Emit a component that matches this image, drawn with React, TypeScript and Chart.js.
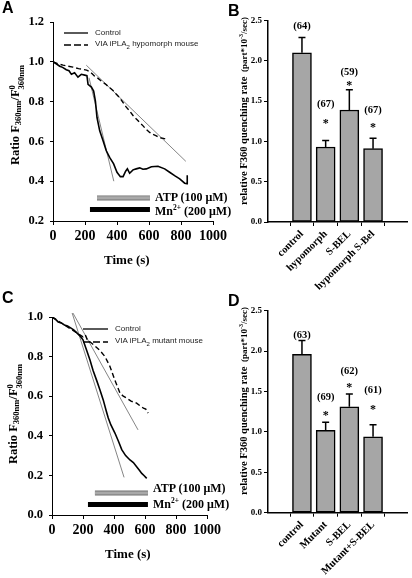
import React, { useEffect, useRef } from "react";
import { Chart, registerables } from "chart.js";
Chart.register(...registerables);

const SERIF = '"Liberation Serif", "Times New Roman", serif';
const SANS = '"Liberation Sans", Arial, sans-serif';

// ---------------- Panel A data ----------------
const aControlTime = [0, 20, 42, 60, 83, 100, 115, 135, 156, 177, 198, 212, 219, 240, 254, 265, 275, 292, 313, 333, 354, 379, 400, 421, 438, 454, 465, 479, 500, 520, 542, 562, 583, 615, 656, 698, 729, 760, 792, 823, 838, 839];
const aControlRatio = [1.0, 0.99, 0.978, 0.972, 0.96, 0.955, 0.937, 0.945, 0.923, 0.937, 0.933, 0.93, 0.887, 0.873, 0.853, 0.803, 0.72, 0.653, 0.603, 0.553, 0.52, 0.487, 0.445, 0.423, 0.423, 0.45, 0.462, 0.44, 0.457, 0.462, 0.467, 0.46, 0.462, 0.473, 0.475, 0.462, 0.445, 0.428, 0.412, 0.39, 0.387, 0.43];
const aHypoTime = [0, 30, 63, 95, 125, 160, 188, 210, 229, 245, 260, 280, 302, 328, 354, 375, 396, 418, 438, 458, 479, 500, 521, 542, 563, 583, 604, 625, 646, 662, 677, 690, 704];
const aHypoRatio = [1.0, 0.99, 0.983, 0.978, 0.973, 0.966, 0.962, 0.958, 0.95, 0.94, 0.928, 0.918, 0.903, 0.888, 0.87, 0.856, 0.837, 0.818, 0.795, 0.772, 0.753, 0.73, 0.712, 0.695, 0.678, 0.66, 0.645, 0.635, 0.628, 0.62, 0.617, 0.615, 0.612];
const aFitSlowTime = [208, 830];
const aFitSlowRatio = [0.983, 0.5];
const aFitFastTime = [225, 380];
const aFitFastRatio = [0.92, 0.4];
const aAtpTime = [275, 606];
const aAtpLevel = 0.316;
const aMnTime = [231, 606];
const aMnLevel = 0.258;
const aYTicks = { min: 0.2, max: 1.2, step: 0.2 };

// ---------------- Panel C data ----------------
const cControlTime = [0, 20, 40, 60, 80, 100, 120, 140, 160, 180, 200, 220, 245, 265, 288, 310, 331, 350, 363, 380, 406, 430, 450, 475, 503, 525, 546, 565, 579, 595, 611];
const cControlRatio = [1.0, 0.99, 0.975, 0.97, 0.96, 0.955, 0.945, 0.935, 0.92, 0.905, 0.885, 0.84, 0.783, 0.73, 0.68, 0.63, 0.58, 0.525, 0.49, 0.455, 0.414, 0.37, 0.33, 0.3, 0.278, 0.265, 0.244, 0.225, 0.21, 0.198, 0.185];
const cMutantTime = [0, 40, 80, 120, 160, 180, 200, 215, 230, 245, 275, 310, 342, 374, 406, 439, 460, 482, 510, 546, 570, 590, 605, 612, 620];
const cMutantRatio = [1.0, 0.98, 0.96, 0.94, 0.92, 0.91, 0.9, 0.91, 0.88, 0.875, 0.855, 0.83, 0.8, 0.75, 0.68, 0.615, 0.6, 0.59, 0.575, 0.565, 0.55, 0.54, 0.535, 0.525, 0.515];
const cFitFastTime = [130, 465];
const cFitFastRatio = [1.02, 0.19];
const cFitSlowTime = [135, 555];
const cFitSlowRatio = [1.02, 0.43];
const cAtpTime = [277, 619];
const cAtpLevel = 0.111;
const cMnTime = [232, 619];
const cMnLevel = 0.053;
const cYTicks = { min: 0, max: 1.0, step: 0.2 };

const timeTicks = { min: 0, max: 1000, step: 200 };

// ---------------- Panel B data ----------------
const bCategories = ["control", "hypomorph", "S-BEL", "hypomorph S-Bel"];
const bMeans = [2.1, 0.93, 1.39, 0.91];
const bSem = [0.19, 0.08, 0.25, 0.13];
const bN = ["(64)", "(67)", "(59)", "(67)"];
const bNLabelAt = [2.43, 1.46, 1.86, 1.38];
const bStarAt = [null, 1.26, 1.72, 1.2];

// ---------------- Panel D data ----------------
const dCategories = ["control", "Mutant", "S-BEL", "Mutant+S-BEL"];
const dMeans = [1.96, 1.02, 1.31, 0.94];
const dSem = [0.17, 0.1, 0.16, 0.15];
const dN = ["(63)", "(69)", "(62)", "(61)"];
const dNLabelAt = [2.2, 1.43, 1.75, 1.51];
const dStarAt = [null, 1.24, 1.58, 1.31];

const rateTicks = { min: 0, max: 2.5, step: 0.5 };

const zip = (t: number[], v: number[]) => t.map((x, i) => ({ x, y: v[i] }));
const flat = (t: number[], level: number) => t.map((x) => ({ x, y: level }));

function lineConfig(p: any): any {
  const tickFontY = { family: SERIF, weight: "bold", size: 12.5 };
  const tickFontX = { family: SERIF, weight: "bold", size: 14 };
  return {
    type: "line",
    data: {
      datasets: [
        { data: flat(p.atpTime, p.atpLevel), borderColor: "#a9a9a9", borderWidth: 3.2, borderCapStyle: "butt", order: 0 },
        { data: flat(p.atpTime, p.atpLevel), borderColor: "#707070", borderWidth: 5, borderCapStyle: "butt", order: 1 },
        { data: flat(p.mnTime, p.mnLevel), borderColor: "#000", borderWidth: 5, borderCapStyle: "butt", order: 1 },
        { data: zip(p.ctlT, p.ctlV), borderColor: "#000", borderWidth: 1.6, order: 2 },
        { data: zip(p.mutT, p.mutV), borderColor: "#000", borderWidth: 1.4, borderDash: [5, 3], order: 2 },
        { data: zip(p.fit1T, p.fit1V), borderColor: "#666", borderWidth: 0.8, order: 3, clip: false },
        { data: zip(p.fit2T, p.fit2V), borderColor: "#666", borderWidth: 0.8, order: 3, clip: false },
      ],
    },
    options: {
      responsive: false,
      animation: false,
      devicePixelRatio: 1,
      layout: { padding: { left: 0, top: p.padTop, right: p.padRight, bottom: 0 } },
      plugins: { legend: { display: false }, tooltip: { enabled: false } },
      elements: { point: { radius: 0 }, line: { tension: 0, fill: false } },
      scales: {
        x: {
          type: "linear",
          min: timeTicks.min,
          max: timeTicks.max,
          ticks: { stepSize: timeTicks.step, autoSkip: false, callback: (v: any) => String(Math.round(Number(v))), font: tickFontX, color: "#000", padding: 3, maxRotation: 0, minRotation: 0 },
          grid: { display: true, drawOnChartArea: false, drawTicks: true, tickLength: 4, color: "#000" },
          border: { display: true, color: "#000", width: 1 },
          afterFit: (s: any) => { s.height = p.xH; },
        },
        y: {
          type: "linear",
          min: p.y.min,
          max: p.y.max,
          ticks: { stepSize: p.y.step, autoSkip: false, callback: (v: any) => Number(v).toFixed(1), font: tickFontY, color: "#000", padding: 6 },
          grid: { display: true, drawOnChartArea: false, drawTicks: true, tickLength: 3, color: "#000" },
          border: { display: true, color: "#000", width: 1 },
          afterFit: (s: any) => { s.width = p.yW; },
        },
      },
    },
  };
}

function barAnnotations(means: number[], sem: number[], nLab: string[], nAt: number[], starAt: (number | null)[]) {
  return {
    id: "barAnn",
    afterDatasetsDraw(chart: any) {
      const { ctx } = chart;
      const x = chart.scales.x;
      const y = chart.scales.y;
      ctx.save();
      ctx.strokeStyle = "#000";
      ctx.lineWidth = 1.5;
      means.forEach((m, i) => {
        const px = x.getPixelForValue(i);
        const y0 = y.getPixelForValue(m);
        const y1 = y.getPixelForValue(m + sem[i]);
        ctx.beginPath();
        ctx.moveTo(px, y0);
        ctx.lineTo(px, y1);
        ctx.moveTo(px - 3.5, y1);
        ctx.lineTo(px + 3.5, y1);
        ctx.stroke();
        ctx.fillStyle = "#000";
        ctx.textAlign = "center";
        ctx.textBaseline = "middle";
        ctx.font = `bold 10.5px ${SERIF}`;
        ctx.fillText(nLab[i], px, y.getPixelForValue(nAt[i]));
        const s = starAt[i];
        if (s != null) {
          ctx.font = `bold 12px ${SERIF}`;
          ctx.fillText("*", px, y.getPixelForValue(s) + 3);
        }
      });
      ctx.restore();
    },
  };
}

function barConfig(p: any): any {
  return {
    type: "bar",
    data: {
      datasets: [
        {
          data: p.means.map((m: number, i: number) => ({ x: i, y: m })),
          backgroundColor: "#a6a6a6",
          borderColor: "#000",
          borderWidth: 1.5,
          borderSkipped: false,
          barThickness: 19,
        },
      ],
    },
    plugins: [barAnnotations(p.means, p.sem, p.n, p.nAt, p.starAt)],
    options: {
      responsive: false,
      animation: false,
      devicePixelRatio: 1,
      layout: { padding: { left: 0, top: p.padTop, right: p.padRight, bottom: 0 } },
      plugins: { legend: { display: false }, tooltip: { enabled: false } },
      scales: {
        x: {
          type: "linear",
          min: -0.7,
          max: p.cats.length - 0.3,
          afterBuildTicks: (s: any) => { s.ticks = p.cats.map((_: string, i: number) => ({ value: i })); },
          ticks: {
            autoSkip: false,
            minRotation: 45,
            maxRotation: 45,
            callback: (v: any) => p.cats[v] ?? "",
            font: { family: SERIF, weight: "bold", size: 10.5 },
            color: "#000",
            padding: 2,
          },
          grid: { display: true, drawOnChartArea: false, drawTicks: true, tickLength: 4, color: "#000" },
          border: { display: true, color: "#000", width: 1.5 },
          afterFit: (s: any) => { s.height = p.xH; },
        },
        y: {
          type: "linear",
          min: rateTicks.min,
          max: rateTicks.max,
          ticks: { stepSize: rateTicks.step, callback: (v: any) => Number(v).toFixed(1), font: { family: SERIF, weight: "bold", size: 9 }, color: "#000", padding: 2 },
          grid: { display: true, drawOnChartArea: false, drawTicks: true, tickLength: 4, color: "#000" },
          border: { display: true, color: "#000", width: 1.5 },
          afterFit: (s: any) => { s.width = 56; },
        },
      },
    },
  };
}

function ChartBox({ left, top, width, height, make }: any) {
  const ref = useRef<HTMLCanvasElement>(null);
  useEffect(() => {
    const chart = new Chart(ref.current as HTMLCanvasElement, make());
    return () => chart.destroy();
  }, []);
  return (
    <div style={{ position: "absolute", left, top, width, height }}>
      <canvas ref={ref} width={width} height={height} style={{ width, height, display: "block" }} />
    </div>
  );
}

function T({ x, y, size, children, family = SERIF, bold = true, rotate = false, color = "#000" }: any) {
  return (
    <div
      style={{
        position: "absolute",
        left: x,
        top: y,
        transform: rotate ? "translate(-50%, -50%) rotate(-90deg)" : "translateY(-50%)",
        fontFamily: family,
        fontWeight: bold ? "bold" : "normal",
        fontSize: size,
        lineHeight: 1,
        whiteSpace: "nowrap",
        color,
      }}
    >
      {children}
    </div>
  );
}

function RatioTitle() {
  const sub = { fontSize: 8.5, verticalAlign: "-0.3em" };
  return (
    <span>
      Ratio F<span style={sub}>360nm</span>/F
      <span style={{ display: "inline-flex", flexDirection: "column", verticalAlign: "middle", fontSize: 8.5, lineHeight: 1 }}>
        <span>0</span>
        <span>360nm</span>
      </span>
    </span>
  );
}

function RateTitle() {
  return (
    <span>
      <span style={{ fontSize: 10.5 }}>relative F360 quenching rate</span>
      <span style={{ fontSize: 9 }}>
        {"\u00a0\u00a0"}(part*10<sup style={{ fontSize: 6 }}>-3</sup>/sec)
      </span>
    </span>
  );
}

const configA = () =>
  lineConfig({
    ctlT: aControlTime, ctlV: aControlRatio, mutT: aHypoTime, mutV: aHypoRatio,
    fit1T: aFitSlowTime, fit1V: aFitSlowRatio, fit2T: aFitFastTime, fit2V: aFitFastRatio,
    atpTime: aAtpTime, atpLevel: aAtpLevel, mnTime: aMnTime, mnLevel: aMnLevel,
    y: aYTicks, padTop: 22, padRight: 27, xH: 69, yW: 53,
  });
const configC = () =>
  lineConfig({
    ctlT: cControlTime, ctlV: cControlRatio, mutT: cMutantTime, mutV: cMutantRatio,
    fit1T: cFitFastTime, fit1V: cFitFastRatio, fit2T: cFitSlowTime, fit2V: cFitSlowRatio,
    atpTime: cAtpTime, atpLevel: cAtpLevel, mnTime: cMnTime, mnLevel: cMnLevel,
    y: cYTicks, padTop: 27, padRight: 33, xH: 63, yW: 52,
  });
const configB = () =>
  barConfig({ cats: bCategories, means: bMeans, sem: bSem, n: bN, nAt: bNLabelAt, starAt: bStarAt, padTop: 20.5, padRight: 5, xH: 68 });
const configD = () =>
  barConfig({ cats: dCategories, means: dMeans, sem: dSem, n: dN, nAt: dNLabelAt, starAt: dStarAt, padTop: 20.7, padRight: 5, xH: 65.3 });

export default function App() {
  useEffect(() => {
    document.body.style.margin = "0";
  }, []);
  return (
    <div style={{ position: "absolute", left: 0, top: 0, width: 412, height: 578, background: "#fff", overflow: "hidden" }}>
      <ChartBox left={0} top={0} width={240} height={290} make={configA} />
      <ChartBox left={0} top={290} width={240} height={288} make={configC} />
      <ChartBox left={212} top={0} width={200} height={290} make={configB} />
      <ChartBox left={212} top={290} width={200} height={288} make={configD} />

      <svg style={{ position: "absolute", left: 0, top: 0 }} width={412} height={578}>
        <line x1={64} y1={33} x2={88} y2={33} stroke="#000" strokeWidth={1.3} />
        <line x1={64} y1={45} x2={88} y2={45} stroke="#000" strokeWidth={1.3} strokeDasharray="7,3" />
        <line x1={83} y1={329} x2={108} y2={329} stroke="#000" strokeWidth={1.3} />
        <line x1={83} y1={342} x2={108} y2={342} stroke="#000" strokeWidth={1.3} strokeDasharray="7,3" />
      </svg>

      {/* panel letters */}
      <T x={2} y={8} size={16} family={SANS}>A</T>
      <T x={228} y={11} size={16} family={SANS}>B</T>
      <T x={2} y={298} size={16} family={SANS}>C</T>
      <T x={228} y={301} size={16} family={SANS}>D</T>

      {/* Panel A texts */}
      <T x={95} y={33} size={8} family={SANS} bold={false} color="#222">Control</T>
      <T x={95} y={45} size={8} family={SANS} bold={false} color="#222">
        VIA iPLA<sub style={{ fontSize: 6 }}>2</sub> hypomorph mouse
      </T>
      <T x={155} y={197} size={12}>ATP (100 μM)</T>
      <T x={155} y={210} size={12}>
        Mn<sup style={{ fontSize: 7.5 }}>2+</sup> (200 μM)
      </T>
      <T x={16} y={115} size={12.5} rotate>
        <RatioTitle />
      </T>
      <T x={104} y={259} size={13}>Time (s)</T>

      {/* Panel C texts */}
      <T x={115} y={329} size={8} family={SANS} bold={false} color="#222">Control</T>
      <T x={115} y={342} size={8} family={SANS} bold={false} color="#222">
        VIA iPLA<sub style={{ fontSize: 6 }}>2</sub> mutant mouse
      </T>
      <T x={153} y={488} size={12}>ATP (100 μM)</T>
      <T x={153} y={503} size={12}>
        Mn<sup style={{ fontSize: 7.5 }}>2+</sup> (200 μM)
      </T>
      <T x={14} y={414} size={12.5} rotate>
        <RatioTitle />
      </T>
      <T x={105} y={553} size={13}>Time (s)</T>

      {/* Bar panel titles */}
      <T x={244} y={111} size={10.5} rotate>
        <RateTitle />
      </T>
      <T x={244} y={401} size={10.5} rotate>
        <RateTitle />
      </T>
    </div>
  );
}
